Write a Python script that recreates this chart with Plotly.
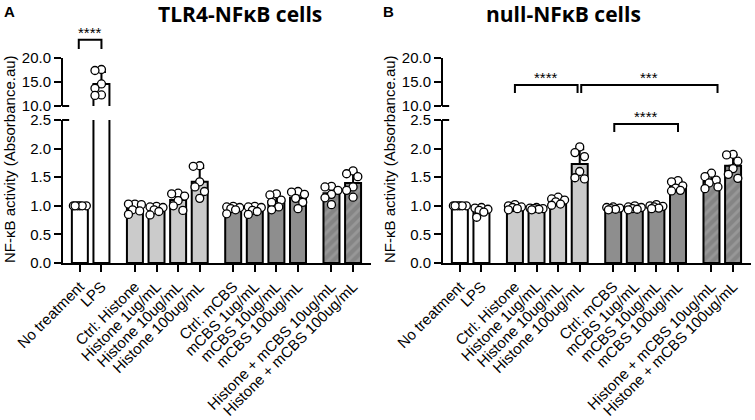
import plotly.graph_objects as go

# ---------------- data ----------------
labels = ["No treatment", "LPS", "Ctrl: Histone", "Histone 1ug/mL", "Histone 10ug/mL",
          "Histone 100ug/mL", "Ctrl: mCBS", "mCBS 1ug/mL", "mCBS 10ug/mL", "mCBS 100ug/mL",
          "Histone + mCBS 10ug/mL", "Histone + mCBS 100ug/mL"]
group_sizes = [2, 4, 4, 2]

means_tlr4 = [1.00, 14.6, 0.96, 0.94, 1.10, 1.42, 0.95, 0.94, 1.08, 1.14, 1.22, 1.40]
sd_tlr4 = [0.01, 2.5, 0.05, 0.05, 0.12, 0.24, 0.04, 0.05, 0.13, 0.12, 0.10, 0.19]
points_tlr4 = [
    [1.00, 1.00, 1.00, 1.00, 1.00, 1.00],
    [17.6, 17.4, 14.6, 13.7, 12.3, 12.2],
    [1.03, 1.03, 1.02, 0.93, 0.91, 0.85],
    [0.99, 0.98, 0.97, 0.93, 0.90, 0.84],
    [1.22, 1.21, 1.17, 1.09, 1.00, 0.92],
    [1.70, 1.69, 1.42, 1.33, 1.25, 1.13],
    [0.99, 0.98, 0.97, 0.95, 0.93, 0.86],
    [0.99, 0.98, 0.97, 0.92, 0.90, 0.85],
    [1.21, 1.19, 1.10, 1.06, 0.98, 0.93],
    [1.25, 1.24, 1.20, 1.13, 1.06, 0.95],
    [1.34, 1.33, 1.27, 1.20, 1.14, 1.02],
    [1.61, 1.56, 1.51, 1.33, 1.27, 1.15],
]

means_null = [1.00, 0.91, 0.97, 0.95, 1.08, 1.73, 0.95, 0.96, 0.98, 1.33, 1.42, 1.70]
sd_null = [0.01, 0.04, 0.06, 0.03, 0.08, 0.26, 0.03, 0.04, 0.03, 0.10, 0.15, 0.19]
points_null = [
    [1.00, 1.00, 1.00, 1.00, 1.00, 1.00],
    [0.97, 0.96, 0.94, 0.92, 0.89, 0.80],
    [1.02, 1.00, 0.98, 0.97, 0.95, 0.93],
    [0.97, 0.96, 0.95, 0.95, 0.94, 0.93],
    [1.15, 1.12, 1.10, 1.07, 1.03, 1.01],
    [2.03, 1.93, 1.86, 1.60, 1.49, 1.47],
    [0.98, 0.97, 0.96, 0.95, 0.94, 0.93],
    [1.00, 0.98, 0.97, 0.95, 0.94, 0.93],
    [1.02, 1.00, 0.99, 0.98, 0.96, 0.95],
    [1.44, 1.42, 1.35, 1.31, 1.27, 1.26],
    [1.57, 1.51, 1.45, 1.40, 1.33, 1.30],
    [1.90, 1.89, 1.78, 1.65, 1.55, 1.48],
]

# significance brackets: (start index, end index, level value, label)
sig_tlr4 = [(0, 1, 23.8, "****")]
sig_null_upper = [(2, 5, 14.4, "****"), (5, 10, 14.4, "***")]
sig_null_lower = [(6, 9, 2.43, "****")]

lower_ticks = [0.0, 0.5, 1.0, 1.5, 2.0, 2.5]
upper_ticks = [10.0, 15.0, 20.0]
LOWER_RANGE = [0, 2.5]
UPPER_RANGE = [10, 20]

# ---------------- style ----------------
FONT = "Liberation Sans, Arial, sans-serif"
group_colors = ["#ffffff", "#cbcbcb", "#8e8e8e", "#858585"]
HATCH_GROUP = 3
GROUP_GAP = 0.55
BAR_W = 0.74

W, H = 755, 420
XL = [63 / W, 371 / W]
XR = [443 / W, 751 / W]
YLO = [1 - 263 / H, 1 - 120 / H]
YUP = [1 - 106 / H, 1 - 58 / H]
XRANGE = [-0.78, 13.48]

# positions from group structure
pos, grp = [], []
x = 0.0
for gi, n in enumerate(group_sizes):
    for _ in range(n):
        pos.append(x)
        grp.append(gi)
        x += 1
    x += GROUP_GAP

PX_X = (XL[1] - XL[0]) * W / (XRANGE[1] - XRANGE[0])
PX_LO = (YLO[1] - YLO[0]) * H / (LOWER_RANGE[1] - LOWER_RANGE[0])
PX_UP = (YUP[1] - YUP[0]) * H / (UPPER_RANGE[1] - UPPER_RANGE[0])


def swarm(vals):
    cands = [0.0, -0.22, 0.22, -0.11, 0.11, -0.3, 0.3]
    placed, offs = [], []
    for v in vals:
        ypx = PX_UP if v >= 10 else PX_LO
        best, bestd = 0.0, -1
        for c in cands:
            if placed:
                d = min((((c - pc) * PX_X) ** 2 + ((v - pv) * ypx) ** 2) ** 0.5 for pc, pv in placed)
            else:
                d = 1e9
            if d >= 7.0:
                best = c
                break
            if d > bestd:
                bestd, best = d, c
        placed.append((best, v))
        offs.append(best)
    return offs


fig = go.Figure()


def add_panel(means, sds, pts, xa, ylo, yup):
    solid = [i for i in range(len(means)) if grp[i] != HATCH_GROUP]
    hatch = [i for i in range(len(means)) if grp[i] == HATCH_GROUP]
    for ya in (ylo, yup):
        fig.add_trace(go.Bar(
            x=[pos[i] for i in solid], y=[means[i] for i in solid], width=BAR_W,
            marker=dict(color=[group_colors[grp[i]] for i in solid], line=dict(color="black", width=2)),
            error_y=dict(type="data", symmetric=False, array=[sds[i] for i in solid],
                         arrayminus=[0] * len(solid), color="black", thickness=2, width=4.5),
            xaxis=xa, yaxis=ya, showlegend=False, hoverinfo="skip"))
        fig.add_trace(go.Bar(
            x=[pos[i] for i in hatch], y=[means[i] for i in hatch], width=BAR_W,
            marker=dict(color=group_colors[HATCH_GROUP], line=dict(color="black", width=2),
                        pattern=dict(shape="/", fgcolor="#a9a9a9", bgcolor=group_colors[HATCH_GROUP],
                                     size=7, solidity=0.4, fillmode="overlay")),
            error_y=dict(type="data", symmetric=False, array=[sds[i] for i in hatch],
                         arrayminus=[0] * len(hatch), color="black", thickness=2, width=4.5),
            xaxis=xa, yaxis=ya, showlegend=False, hoverinfo="skip"))
    px, py = [], []
    for i, vals in enumerate(pts):
        for o, v in zip(swarm(vals), vals):
            px.append(pos[i] + o)
            py.append(v)
    for ya in (ylo, yup):
        fig.add_trace(go.Scatter(
            x=px, y=py, mode="markers", xaxis=xa, yaxis=ya, showlegend=False, hoverinfo="skip",
            marker=dict(size=8, color="white", line=dict(color="black", width=1.3))))


add_panel(means_tlr4, sd_tlr4, points_tlr4, "x", "y", "y3")
add_panel(means_null, sd_null, points_null, "x2", "y2", "y4")

ax = dict(showline=True, linecolor="black", linewidth=2, ticks="outside", ticklen=7, tickwidth=2,
          tickcolor="black", showgrid=False, zeroline=False, automargin=False,
          tickfont=dict(family=FONT, size=15, color="black"))
xax = dict(ax, tickvals=pos, ticktext=labels, tickangle=-45, range=XRANGE)
ylo_ax = dict(ax, range=LOWER_RANGE, tickvals=lower_ticks, tickformat=".1f")
yup_ax = dict(ax, range=UPPER_RANGE, tickvals=upper_ticks, tickformat=".1f")

fig.update_layout(
    width=W, height=H, margin=dict(l=0, r=0, t=0, b=0, pad=0, autoexpand=False),
    paper_bgcolor="white", plot_bgcolor="white", barmode="overlay",
    xaxis=dict(xax, domain=XL, anchor="y"),
    xaxis2=dict(xax, domain=XR, anchor="y2"),
    yaxis=dict(ylo_ax, domain=YLO, anchor="x"),
    yaxis2=dict(ylo_ax, domain=YLO, anchor="x2"),
    yaxis3=dict(yup_ax, domain=YUP, anchor="x"),
    yaxis4=dict(yup_ax, domain=YUP, anchor="x2"),
)

shapes, annos = [], []
# axis break caps
for xa, ylo, yup in [("x", "y", "y3"), ("x2", "y2", "y4")]:
    shapes.append(dict(type="line", xref=f"{xa} domain", yref=f"{ylo} domain", x0=-0.003, x1=0.02,
                       y0=1, y1=1, line=dict(color="black", width=2)))
    shapes.append(dict(type="line", xref=f"{xa} domain", yref=f"{yup} domain", x0=-0.003, x1=0.02,
                       y0=0, y1=0, line=dict(color="black", width=2)))


def bracket(xa, yref, i0, i1, yv, drop, label, x0adj=0.0, x1adj=0.0):
    xa0, xa1 = pos[i0] + x0adj, pos[i1] + x1adj
    shapes.append(dict(type="path", xref=xa, yref=yref,
                       path=f"M {xa0},{yv - drop} L {xa0},{yv} L {xa1},{yv} L {xa1},{yv - drop}",
                       line=dict(color="black", width=2)))
    annos.append(dict(xref=xa, yref=yref, x=(xa0 + xa1) / 2, y=yv, text=label, showarrow=False,
                      yanchor="bottom", yshift=-3, font=dict(family=FONT, size=15, color="black")))


# left panel bracket lies above the upper axis range -> expressed in domain fraction
for i0, i1, yv, lab in sig_tlr4:
    frac = (yv - UPPER_RANGE[0]) / (UPPER_RANGE[1] - UPPER_RANGE[0])
    drop = 1.9 / (UPPER_RANGE[1] - UPPER_RANGE[0])
    bracket("x", "y3 domain", i0, i1, frac, drop, lab, -0.05, 0.0)
bracket("x2", "y4", 2, 5, sig_null_upper[0][2], 1.7, sig_null_upper[0][3], 0.0, -0.1)
bracket("x2", "y4", 5, 10, sig_null_upper[1][2], 1.7, sig_null_upper[1][3], 0.07, 0.28)
bracket("x2", "y2", 6, 9, sig_null_lower[0][2], 0.14, sig_null_lower[0][3], 0.05, 0.0)

# text
for xc, txt in [(9, "A"), (388, "B")]:
    annos.append(dict(xref="paper", yref="paper", x=xc / W, y=1 - 11 / H, text=f"<b>{txt}</b>",
                      showarrow=False, xanchor="center", yanchor="middle",
                      font=dict(family=FONT, size=15, color="black")))
for xc, txt in [(240, "TLR4-NFκB cells"), (563, "null-NFκB cells")]:
    annos.append(dict(xref="paper", yref="paper", x=xc / W, y=1 - 14 / H, text=f"<b>{txt}</b>",
                      showarrow=False, xanchor="center", yanchor="middle",
                      font=dict(family="Open Sans, sans-serif", size=21, color="black")))
for xc in (9, 389):
    annos.append(dict(xref="paper", yref="paper", x=xc / W, y=1 - 159 / H,
                      text="NF-κB activity (Absorbance.au)", textangle=-90, showarrow=False,
                      xanchor="center", yanchor="middle",
                      font=dict(family=FONT, size=15, color="black")))

fig.update_layout(shapes=shapes, annotations=annos)
fig.write_html("out.html", config={"displayModeBar": False},
               post_script="document.body.style.margin='0';")
